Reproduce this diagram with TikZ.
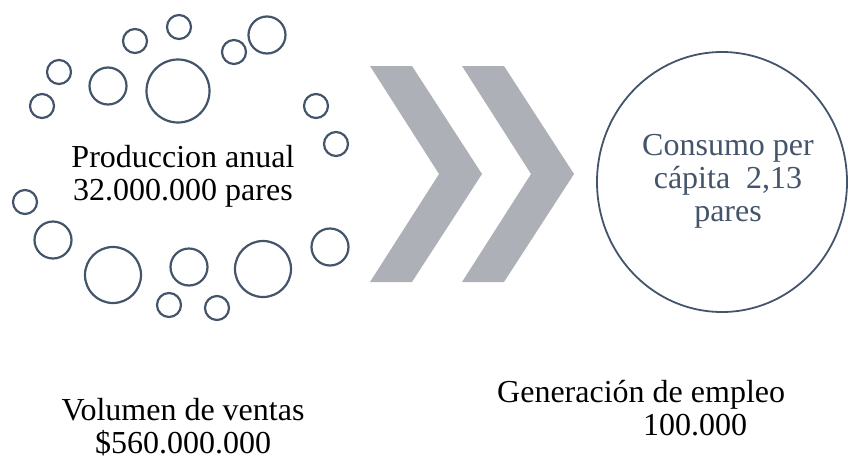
\documentclass[tikz,border=0pt]{standalone}
\usepackage{fontspec}
\setmainfont{Liberation Serif}
\definecolor{pizarra}{RGB}{68,84,106}
\definecolor{flecha}{RGB}{174,176,184}
\tikzset{
  burbuja/.style={draw=pizarra, line width=2.2pt},
  texto/.style={align=center, inner sep=0pt, font=\fontsize{32}{33}\selectfont}
}
\begin{document}
\begin{tikzpicture}[x=1pt,y=-1pt]
  % Rahmen
  \useasboundingbox (0,0) rectangle (848,461);

  % Kreise um die Produktion
  \foreach \x/\y/\r in {179/27/12, 135/41/12, 267/35/18.5, 234/52/12,
      59/72/12, 108/86/18.5, 178/91/31.5, 42/106/12, 316/106/12,
      336/144/12, 25/202/12, 53/240/18.5, 113/275/28, 189/267/18.5,
      263/269/28, 330/247/18.5, 169/305/12, 217/308/12}
    \draw[burbuja] (\x,\y) circle (\r);

  \node[texto] (produccion) at (183,176) {Produccion anual\\32.000.000 pares};

  % Pfeile (Chevrons)
  \foreach \dx in {0,92}
    \fill[flecha] (370+\dx,66) -- (412+\dx,66) -- (482+\dx,174)
      -- (412+\dx,282) -- (370+\dx,282) -- (439+\dx,174) -- cycle;

  % Grosser Kreis
  \draw[draw=pizarra, line width=1.8pt] (722,182) ellipse (125 and 130);
  \node[texto, text=pizarra] (consumo) at (728,181) {Consumo per\\c\'apita\ \ 2,13\\pares};

  % Texte unten
  \node[texto] (ventas) at (183,427) {Volumen de ventas\\\$560.000.000};
  \node[texto, align=left, anchor=west] (empleo) at (497,408)
    {Generaci\'on de empleo\\\hspace*{146pt}100.000};
\end{tikzpicture}
\end{document}
